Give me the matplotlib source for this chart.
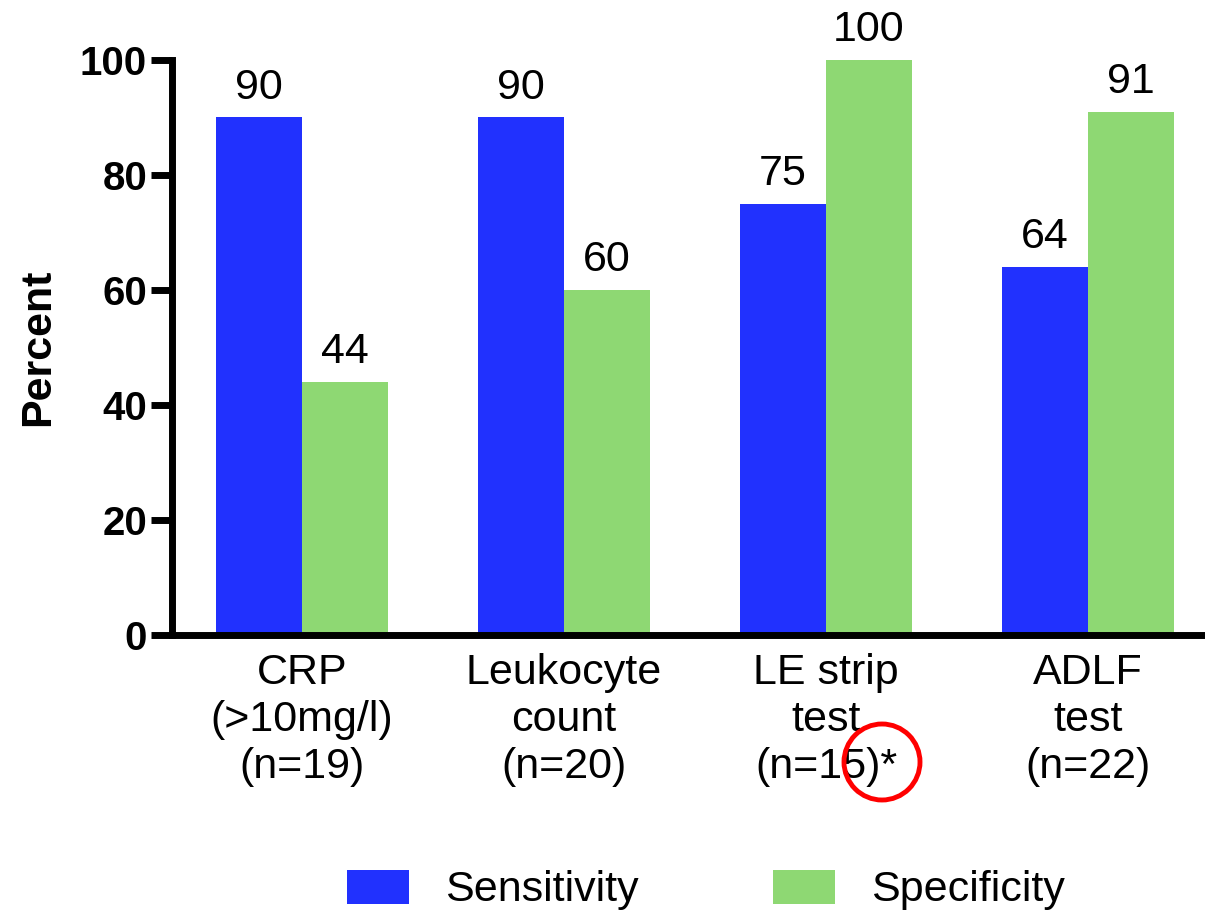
import matplotlib
matplotlib.use('Agg')
import matplotlib.pyplot as plt
from matplotlib.patches import Ellipse
import numpy as np

plt.rcParams['font.family'] = ['Liberation Sans', 'DejaVu Sans']

categories = ['CRP\n(>10mg/l)\n(n=19)', 'Leukocyte\ncount\n(n=20)',
              'LE strip\ntest\n(n=15)*', 'ADLF\ntest\n(n=22)']
sensitivity = [90, 90, 75, 64]
specificity = [44, 60, 100, 91]
sens_labels = ['90', '90', '75', '64']
spec_labels = ['44', '60', '100', '91']

blue = '#2131FE'
green = '#8ED873'
fs = 31

W, H = 1205, 916
fig = plt.figure(figsize=(W / 100, H / 100), dpi=100)
# axes placed in pixel terms; right edge runs past the figure like the original
left, right, top, bottom = 172, 1219, 60, 635
ax = fig.add_axes([left / W, 1 - bottom / H, (right - left) / W, (bottom - top) / H])

x = np.arange(len(categories))
w = 86 / 262
b1 = ax.bar(x - w / 2, sensitivity, w, color=blue, label='Sensitivity')
b2 = ax.bar(x + w / 2, specificity, w, color=green, label='Specificity')

for bars, labs in ((b1, sens_labels), (b2, spec_labels)):
    for r, t in zip(bars, labs):
        ax.annotate(t, (r.get_x() + r.get_width() / 2, r.get_height()),
                    xytext=(0, 7), textcoords='offset points',
                    ha='center', va='bottom', fontsize=fs)

ax.set_xlim(-130 / 262, 3 + (right - 1088) / 262)
ax.set_ylim(0, 100)
ax.set_yticks([0, 20, 40, 60, 80, 100])
ax.set_xticks(x)
ax.set_xticklabels(categories, fontsize=fs, linespacing=1.22)
ax.tick_params(axis='x', length=0, pad=13)
ax.tick_params(axis='y', length=15, width=5, pad=3, labelsize=29)
for lab in ax.get_yticklabels():
    lab.set_fontweight('bold')

for s in ('top', 'right'):
    ax.spines[s].set_visible(False)
for s in ('left', 'bottom'):
    ax.spines[s].set_linewidth(5)

ax.set_ylabel('Percent', fontsize=fs, fontweight='bold', labelpad=16)

fig.legend(handles=[b1, b2], loc='center', bbox_to_anchor=(706 / W, 1 - 890 / H),
           ncol=2, frameon=False, fontsize=fs, handlelength=1.44, handleheight=0.84,
           handletextpad=0.84, columnspacing=3.1)

# red circle highlighting the asterisk
fig.add_artist(Ellipse((882 / W, 1 - 762 / H), 76 / W, 76 / H, transform=fig.transFigure,
                       fill=False, edgecolor='#FF0000', linewidth=3.5))

fig.savefig('out.png', dpi=100)
